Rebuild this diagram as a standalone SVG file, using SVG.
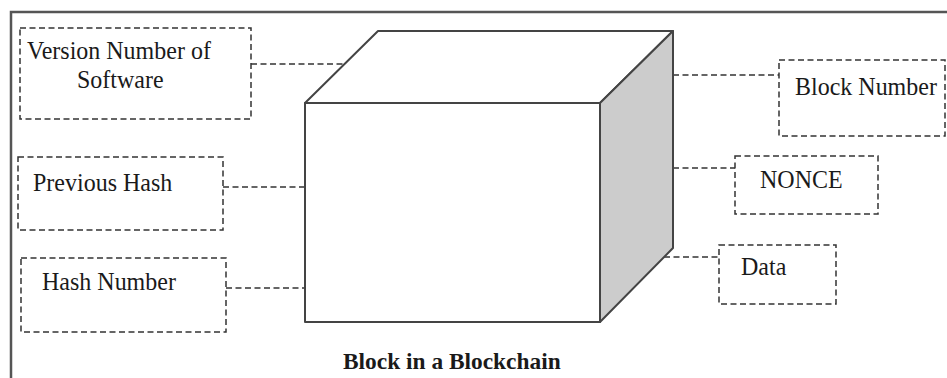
<svg xmlns="http://www.w3.org/2000/svg" width="947" height="378" viewBox="0 0 947 378">
  <style>
    .frame { fill: none; stroke: #555; stroke-width: 2.5; }
    .box { fill: #fff; stroke: #333; stroke-width: 1.5; stroke-dasharray: 6 3.5; }
    .link { fill: none; stroke: #333; stroke-width: 1.5; stroke-dasharray: 6 3.5; }
    .edge { stroke: #444; stroke-width: 2; stroke-linejoin: round; }
    .label { font-family: "Liberation Serif", "Times New Roman", serif; font-size: 24px; fill: #1a1a1a; }
    .caption { font-family: "Liberation Serif", "Times New Roman", serif; font-size: 23.4px; font-weight: bold; fill: #1a1a1a; }
  </style>

  <rect width="947" height="378" fill="#fff"/>

  <!-- outer frame (open on the right and bottom) -->
  <path class="frame" d="M11,380 V12 H950"/>

  <!-- connectors -->
  <g id="connectors">
    <path class="link" d="M251,64 H344.5"/>
    <path class="link" d="M223,187 H305"/>
    <path class="link" d="M226,288 H305"/>
    <path class="link" d="M673,75 H779"/>
    <path class="link" d="M673,168 H735"/>
    <path class="link" d="M664,257 H719"/>
  </g>

  <!-- the block: a cube with a shaded side -->
  <g id="block">
    <polygon class="edge" fill="#fff" points="305,103 378,31 673,31 600,103"/>
    <polygon class="edge" fill="#ccc" points="600,103 673,31 673,248 600,322"/>
    <rect class="edge" fill="#fff" x="305" y="103" width="295" height="219"/>
  </g>

  <g id="version">
    <rect class="box" x="20" y="28" width="231" height="91"/>
    <text class="label" transform="translate(27,59) scale(1,1.08)">Version Number of</text>
    <text class="label" transform="translate(77,88) scale(1,1.08)">Software</text>
  </g>

  <g id="previous-hash">
    <rect class="box" x="18" y="157" width="205" height="73"/>
    <text class="label" transform="translate(33,191) scale(1,1.08)">Previous Hash</text>
  </g>

  <g id="hash-number">
    <rect class="box" x="21" y="258" width="205" height="74"/>
    <text class="label" transform="translate(42,290) scale(1,1.08)">Hash Number</text>
  </g>

  <g id="block-number">
    <rect class="box" x="779" y="60" width="166" height="76"/>
    <text class="label" transform="translate(795,95) scale(1,1.08)">Block Number</text>
  </g>

  <g id="nonce">
    <rect class="box" x="735" y="156" width="143" height="58"/>
    <text class="label" transform="translate(760,188) scale(1,1.08)">NONCE</text>
  </g>

  <g id="data">
    <rect class="box" x="719" y="245" width="117" height="59"/>
    <text class="label" transform="translate(741,275) scale(1,1.08)">Data</text>
  </g>

  <text id="caption" class="caption" x="343" y="369">Block in a Blockchain</text>
</svg>
